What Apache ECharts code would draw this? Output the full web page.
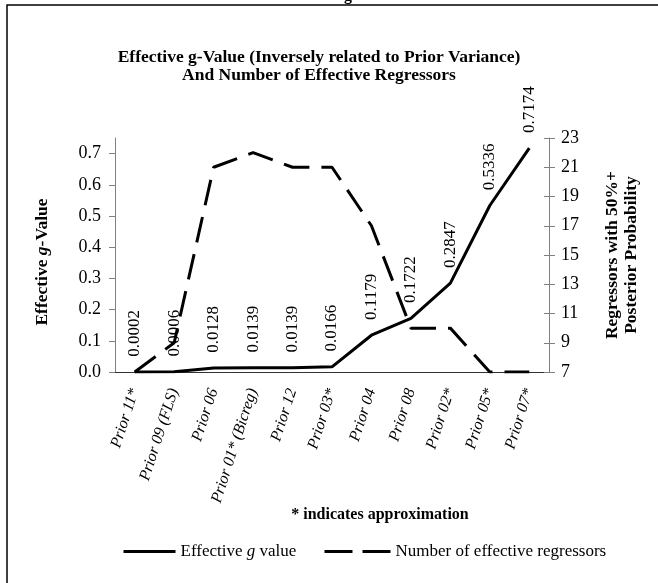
<!DOCTYPE html>
<html lang="en">
<head>
<meta charset="UTF-8">
<title>Effective g-Value and Number of Effective Regressors</title>
<script src="https://cdn.jsdelivr.net/npm/echarts@6/dist/echarts.min.js"></script>
<style>html,body{margin:0;padding:0;background:#fff;}</style>
</head>
<body>
<div id="main" style="width:658px;height:583px;"></div>
<script type="text/javascript">

    var priors = ['Prior 11*', 'Prior 09 (FLS)', 'Prior 06', 'Prior 01* (Bicreg)', 'Prior 12',
        'Prior 03*', 'Prior 04', 'Prior 08', 'Prior 02*', 'Prior 05*', 'Prior 07*'];
    var gValues = [0.0002, 0.0006, 0.0128, 0.0139, 0.0139, 0.0166, 0.1179, 0.1722, 0.2847, 0.5336, 0.7174];
    var regressors = [7, 9, 21, 22, 21, 21, 17, 10, 10, 7, 7];
    var leftTicks = [0, 0.1, 0.2, 0.3, 0.4, 0.5, 0.6, 0.7];
    var rightTicks = [7, 9, 11, 13, 15, 17, 19, 21, 23];

    var serif = 'Liberation Serif';
    var chart = echarts.init(document.getElementById('main'));

    var option = {
        backgroundColor: '#fff',
        animation: false,
        title: {
            text: 'Effective g-Value (Inversely related to Prior Variance)\nAnd Number of Effective Regressors',
            left: 314,
            textAlign: 'center',
            top: 43,
            textStyle: {fontFamily: serif, fontSize: 17.5, fontWeight: 'bold', color: '#000', lineHeight: 18}
        },
        legend: [
            {
                data: ['Effective g value'],
                left: 117, top: 538,
                itemWidth: 52, itemHeight: 14,
                itemStyle: {opacity: 0},
                lineStyle: {color: '#000', width: 3, type: 'solid'},
                formatter: function () { return '{a|Effective }{i|g}{a| value}'; },
                textStyle: {
                    fontFamily: serif, fontSize: 17, color: '#000',
                    rich: {a: {fontFamily: serif, fontSize: 17}, i: {fontFamily: serif, fontSize: 17, fontStyle: 'italic'}}
                }
            },
            {
                data: ['Number of effective regressors'],
                left: 318, top: 538,
                itemWidth: 66, itemHeight: 14,
                itemStyle: {opacity: 0},
                lineStyle: {color: '#000', width: 3, type: [28, 10]},
                textStyle: {fontFamily: serif, fontSize: 17, color: '#000'}
            }
        ],
        grid: {left: 115, right: 109, top: 138, bottom: 211},
        xAxis: {
            type: 'category',
            data: priors,
            boundaryGap: true,
            axisLine: {lineStyle: {color: '#333', width: 1}},
            axisTick: {show: false},
            axisLabel: {
                interval: 0, rotate: 72, margin: 17,
                fontFamily: serif, fontSize: 16, fontStyle: 'italic', color: '#000'
            }
        },
        yAxis: [
            {
                type: 'value', min: 0, max: 0.75, position: 'left',
                name: '{b|Effective }{bi|g}{b|-Value}',
                nameLocation: 'middle', nameGap: 64,
                nameTextStyle: {
                    padding: [0, 14, 0, 0],
                    rich: {
                        b: {fontFamily: serif, fontSize: 17.5, fontWeight: 'bold', color: '#000'},
                        bi: {fontFamily: serif, fontSize: 17.5, fontWeight: 'bold', fontStyle: 'italic', color: '#000'}
                    }
                },
                splitLine: {show: false},
                axisLine: {show: true, lineStyle: {color: '#808080'}},
                axisTick: {show: true, length: 6, customValues: leftTicks, lineStyle: {color: '#808080'}},
                axisLabel: {
                    customValues: leftTicks, margin: 14,
                    fontFamily: serif, fontSize: 18, color: '#000',
                    formatter: function (v) { return v.toFixed(1); }
                }
            },
            {
                type: 'value', min: 7, max: 23, position: 'right',
                name: 'Regressors with 50%+\nPosterior Probability',
                nameLocation: 'middle', nameGap: 54, nameRotate: 90,
                nameTextStyle: {fontFamily: serif, fontSize: 17.5, fontWeight: 'bold', color: '#000', lineHeight: 19},
                splitLine: {show: false},
                axisLine: {show: true, lineStyle: {color: '#808080'}},
                axisTick: {show: true, length: 6, customValues: rightTicks, lineStyle: {color: '#808080'}},
                axisLabel: {customValues: rightTicks, margin: 12, fontFamily: serif, fontSize: 18, color: '#000'}
            },
            {
                // same scale again, only to draw the inner half of the crossing ticks
                type: 'value', min: 7, max: 23, position: 'right',
                splitLine: {show: false},
                axisLine: {show: false},
                axisLabel: {show: false},
                axisTick: {show: true, inside: true, length: 5, customValues: rightTicks, lineStyle: {color: '#808080'}}
            }
        ],
        series: [
            {
                name: 'Effective g value',
                type: 'line',
                yAxisIndex: 0,
                data: gValues,
                symbol: 'circle',
                symbolSize: 0.5,
                color: '#000',
                lineStyle: {color: '#000', width: 3},
                z: 3,
                label: {
                    show: true, position: 'top', distance: 15, rotate: 90,
                    align: 'left', verticalAlign: 'middle',
                    fontFamily: serif, fontSize: 17, color: '#000',
                    formatter: function (p) { return p.value.toFixed(4); }
                }
            },
            {
                name: 'Number of effective regressors',
                type: 'line',
                yAxisIndex: 1,
                data: regressors,
                symbol: 'none',
                color: '#000',
                lineStyle: {color: '#000', width: 3, type: [26, 12]}
            }
        ],
        graphic: [
            {
                type: 'polyline',
                shape: {points: [[7, 583], [7, 5], [658, 5]]},
                style: {stroke: '#000', lineWidth: 1.5, fill: null}
            },
            {
                type: 'text', x: 348, y: 4,
                style: {text: 'g', fontFamily: serif, fontSize: 16, fontWeight: 'bold', fill: '#000',
                    align: 'center', verticalAlign: 'bottom'}
            },
            {
                type: 'text', x: 380, y: 515,
                style: {text: '* indicates approximation', fontFamily: serif, fontSize: 16, fontWeight: 'bold',
                    fill: '#000', align: 'center', verticalAlign: 'middle'}
            }
        ]
    };
    chart.setOption(option);
</script>
</body>
</html>
